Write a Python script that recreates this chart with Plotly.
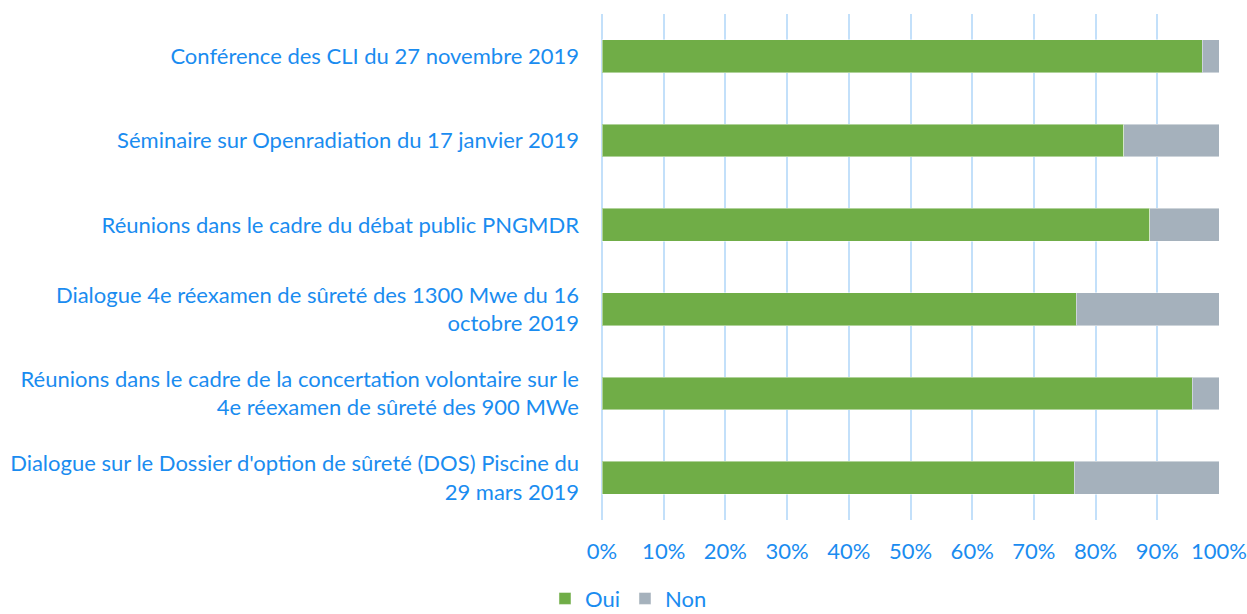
import plotly.graph_objects as go

categories = [
    "Conférence des CLI du 27 novembre 2019",
    "Séminaire sur Openradiation du 17 janvier 2019",
    "Réunions dans le cadre du débat public PNGMDR",
    "Dialogue 4e réexamen de sûreté des 1300 Mwe du 16<br>octobre 2019",
    "Réunions dans le cadre de la concertation volontaire sur le<br>4e réexamen de sûreté des 900 MWe",
    "Dialogue sur le Dossier d'option de sûreté (DOS) Piscine du<br>29 mars 2019",
]
oui = [97.3, 84.6, 88.8, 76.9, 95.7, 76.5]
non = [round(100 - v, 1) for v in oui]
tick_vals = [0, 10, 20, 30, 40, 50, 60, 70, 80, 90, 100]
tick_text = [f"{v}%" for v in tick_vals]

TEXT = "#1a8cf0"
FONT = "Lato"
FS = 22

fig = go.Figure()
fig.add_trace(go.Bar(y=categories, x=oui, name="Oui", orientation="h",
                     marker=dict(color="#70AD47", line=dict(color="rgba(255,255,255,0.45)", width=1))))
fig.add_trace(go.Bar(y=categories, x=non, name="Non", orientation="h",
                     marker=dict(color="#A5B1BC", line=dict(color="rgba(255,255,255,0.45)", width=1))))

fig.update_layout(
    barmode="stack",
    bargap=0.61,
    width=1247, height=614,
    margin=dict(l=602, r=28, t=14, b=94, autoexpand=False),
    plot_bgcolor="white", paper_bgcolor="white",
    font=dict(family=FONT, size=FS, color=TEXT),
    legend=dict(orientation="h", xref="container", yref="container",
                x=0.504, xanchor="center", y=0.025, yanchor="middle",
                font=dict(size=FS, color=TEXT), itemwidth=30, traceorder="normal",
                bgcolor="rgba(0,0,0,0)"),
    xaxis=dict(range=[0, 100], tickvals=tick_vals, ticktext=tick_text,
               showgrid=True, gridcolor="#c3e0fa", gridwidth=2,
               zeroline=True, zerolinecolor="#c3e0fa", zerolinewidth=2,
               showline=False, ticklabelstandoff=16, automargin=False),
    yaxis=dict(autorange="reversed", showgrid=False, ticklabelstandoff=22,
               showline=False, ticks="", automargin=False),
)

fig.write_html(
    "out.html",
    config={"displayModeBar": False},
    post_script="document.body.style.margin='0';document.body.style.overflow='hidden';",
)
